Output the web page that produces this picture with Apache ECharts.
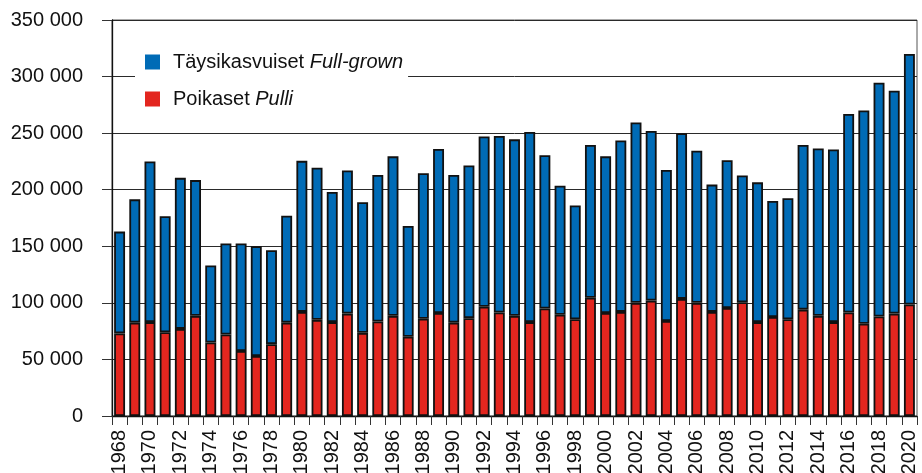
<!DOCTYPE html>
<html>
<head>
<meta charset="utf-8">
<script src="https://cdn.jsdelivr.net/npm/echarts@6/dist/echarts.min.js"></script>
<style>
  html, body { margin: 0; padding: 0; background: #fff; }
  #chart { width: 922px; height: 473px; }
</style>
</head>
<body>
<div id="chart"></div>
<script>
// vuodet
const years = [
  1968, 1969, 1970, 1971, 1972, 1973, 1974, 1975, 1976, 1977,
  1978, 1979, 1980, 1981, 1982, 1983, 1984, 1985, 1986, 1987,
  1988, 1989, 1990, 1991, 1992, 1993, 1994, 1995, 1996, 1997,
  1998, 1999, 2000, 2001, 2002, 2003, 2004, 2005, 2006, 2007,
  2008, 2009, 2010, 2011, 2012, 2013, 2014, 2015, 2016, 2017,
  2018, 2019, 2020
];

// Poikaset (Pulli)
const pulli = [
  73000, 82500, 83000, 74000, 77000, 88500, 65000, 72000, 57500, 53000,
  63500, 82500, 92000, 85000, 83000, 90500, 73500, 83500, 88500, 70000,
  86000, 91000, 82500, 86500, 96500, 91500, 88500, 83000, 95000, 89500,
  85500, 104500, 91000, 92000, 100000, 102000, 84000, 103500, 100000, 92000,
  95500, 100500, 83000, 87500, 85500, 94000, 88500, 83000, 91500, 81500,
  88000, 90500, 98500
];

// Täysikasvuiset (Full-grown)
const fullGrown = [
  90000, 109000, 142000, 102500, 133500, 120000, 68000, 80500, 95000, 97000,
  83000, 94500, 133500, 134500, 115000, 126500, 115500, 129500, 141000, 98000,
  128500, 145000, 130500, 135000, 150500, 156000, 156000, 168000, 135500, 114000,
  100500, 135000, 138500, 151500, 159500, 150000, 133500, 146500, 134500, 112500,
  130500, 112000, 123500, 102500, 107000, 145500, 148000, 152500, 175500, 188500,
  206500, 197000, 221500
];

// legendan kursivoidut nimet
const latinNames = {
  'Täysikasvuiset': 'Full-grown',
  'Poikaset': 'Pulli'
};

const font = 'Liberation Sans, Arial, Helvetica, sans-serif';

var myChart = echarts.init(document.getElementById('chart'));

var option = {
  animation: false,
  textStyle: { fontFamily: font },
  grid: {
    left: 112,
    right: 5,
    top: 20,
    bottom: 57,
    outerBoundsMode: 'none',
    containLabel: false,
    show: true,
    borderColor: '#555',
    borderWidth: 1
  },
  legend: {
    data: ['Täysikasvuiset', 'Poikaset'],
    orient: 'vertical',
    left: 135,
    top: 44,
    padding: [8, 5, 8, 10],
    backgroundColor: '#fff',
    itemWidth: 15,
    itemHeight: 15,
    itemGap: 17,
    icon: 'rect',
    itemStyle: { borderWidth: 0 },
    formatter: function (name) {
      return '{n|' + name + ' }{it|' + latinNames[name] + '}';
    },
    textStyle: {
      fontFamily: font,
      fontSize: 20,
      color: '#111',
      rich: {
        n: { fontFamily: font, fontSize: 20, lineHeight: 22, color: '#111', padding: [0, 0, 0, 8] },
        it: { fontFamily: font, fontSize: 20, lineHeight: 22, color: '#111', fontStyle: 'italic' }
      }
    }
  },
  xAxis: {
    type: 'category',
    data: years,
    boundaryGap: true,
    axisLine: { lineStyle: { color: '#111', width: 1.3 } },
    axisTick: {
      show: true,
      interval: 0,
      length: 9,
      lineStyle: { color: '#333' }
    },
    axisLabel: {
      interval: 1,
      rotate: 90,
      margin: 14,
      fontSize: 20,
      color: '#111',
      fontFamily: font
    }
  },
  yAxis: {
    type: 'value',
    min: 0,
    max: 350000,
    interval: 50000,
    axisLine: { show: true, lineStyle: { color: '#111', width: 1.3 } },
    axisTick: { show: true, length: 10, lineStyle: { color: '#333' } },
    splitLine: { show: true, lineStyle: { color: '#2a2a2a', width: 1 } },
    axisLabel: {
      margin: 29,
      fontSize: 20,
      color: '#111',
      fontFamily: font,
      formatter: function (v) {
        return String(v).replace(/\B(?=(\d{3})+(?!\d))/g, ' ');
      }
    }
  },
  series: [
    {
      name: 'Poikaset',
      type: 'bar',
      stack: 'total',
      barWidth: '72%',
      data: pulli,
      itemStyle: { color: '#e3261f', borderColor: '#111', borderWidth: 1.8 }
    },
    {
      name: 'Täysikasvuiset',
      type: 'bar',
      stack: 'total',
      barWidth: '72%',
      data: fullGrown,
      itemStyle: { color: '#006bb6', borderColor: '#111', borderWidth: 1.8 }
    }
  ]
};

myChart.setOption(option);
</script>
</body>
</html>
